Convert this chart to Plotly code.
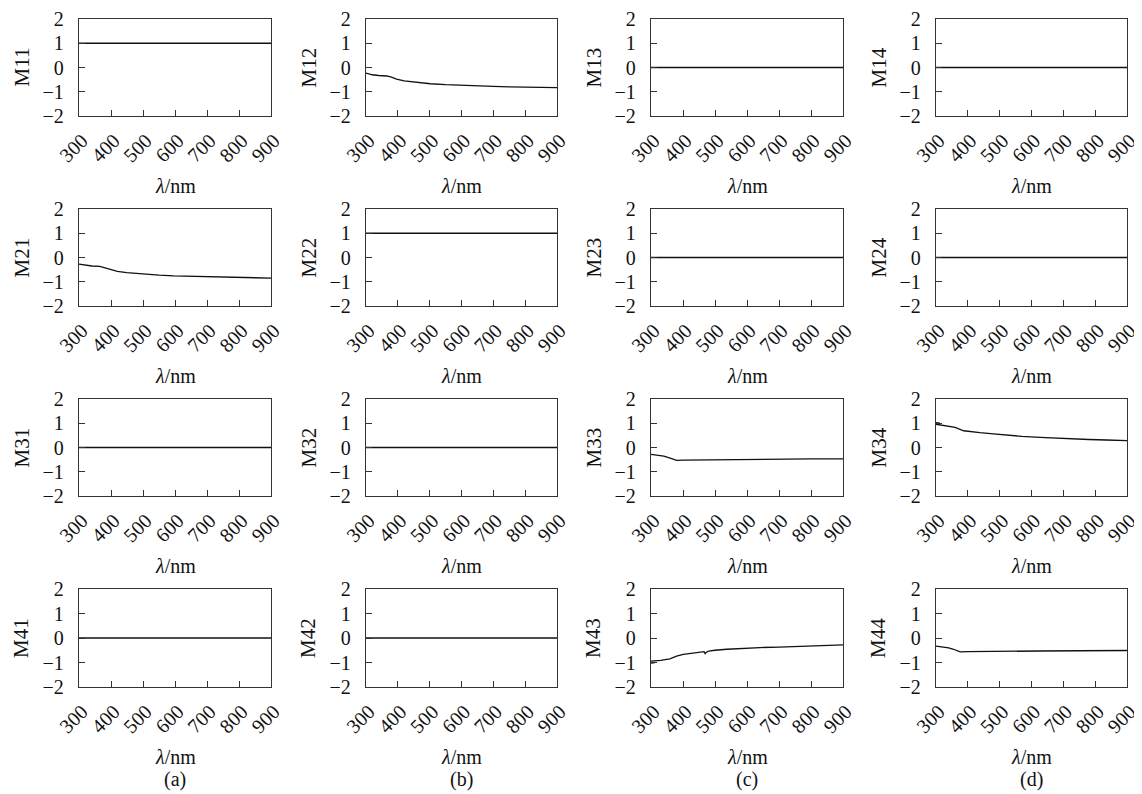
import plotly.graph_objects as go

# ---------------- data ----------------
wl_const = [300, 900]
ones = [1, 1]
zeros = [0, 0]

wl_m12 = [300, 320, 340, 365, 380, 396, 420, 449, 480, 502, 550, 596, 650, 700, 750, 800, 850, 900]
m12 = [-0.23, -0.30, -0.33, -0.35, -0.40, -0.48, -0.55, -0.60, -0.64, -0.67, -0.71, -0.74, -0.76, -0.78, -0.80, -0.81, -0.82, -0.83]

wl_m21 = [300, 320, 340, 365, 380, 396, 420, 449, 480, 502, 550, 596, 650, 700, 750, 800, 850, 900]
m21 = [-0.27, -0.32, -0.35, -0.37, -0.43, -0.50, -0.57, -0.62, -0.66, -0.69, -0.73, -0.76, -0.78, -0.80, -0.82, -0.83, -0.84, -0.85]

wl_m33 = [300, 320, 340, 360, 380, 400, 450, 500, 600, 700, 800, 900]
m33 = [-0.28, -0.31, -0.36, -0.44, -0.53, -0.52, -0.51, -0.50, -0.49, -0.48, -0.47, -0.47]

wl_m34 = [300, 330, 360, 387, 410, 438, 480, 522, 570, 627, 680, 731, 780, 835, 900]
m34 = [0.96, 0.90, 0.83, 0.69, 0.65, 0.61, 0.56, 0.51, 0.46, 0.42, 0.38, 0.35, 0.33, 0.31, 0.28]
wl_m34_start = [300, 312]
m34_start = [1.02, 1.00]

wl_m43 = [300, 330, 359, 380, 401, 430, 453, 466, 469, 473, 480, 500, 537, 590, 641, 700, 745, 800, 850, 900]
m43 = [-0.94, -0.91, -0.85, -0.74, -0.67, -0.61, -0.57, -0.56, -0.64, -0.58, -0.54, -0.50, -0.46, -0.42, -0.39, -0.37, -0.35, -0.32, -0.30, -0.28]
wl_m43_start = [300, 312]
m43_start = [-1.02, -1.00]

wl_m44 = [300, 320, 340, 355, 376, 400, 418, 500, 627, 750, 900]
m44 = [-0.33, -0.36, -0.40, -0.46, -0.57, -0.56, -0.56, -0.55, -0.53, -0.52, -0.51]

series = {
    "M11": [(wl_const, ones)],
    "M12": [(wl_m12, m12)],
    "M13": [(wl_const, zeros)],
    "M14": [(wl_const, zeros)],
    "M21": [(wl_m21, m21)],
    "M22": [(wl_const, ones)],
    "M23": [(wl_const, zeros)],
    "M24": [(wl_const, zeros)],
    "M31": [(wl_const, zeros)],
    "M32": [(wl_const, zeros)],
    "M33": [(wl_m33, m33)],
    "M34": [(wl_m34, m34), (wl_m34_start, m34_start)],
    "M41": [(wl_const, zeros)],
    "M42": [(wl_const, zeros)],
    "M43": [(wl_m43, m43), (wl_m43_start, m43_start)],
    "M44": [(wl_m44, m44)],
}
names = [["M11", "M12", "M13", "M14"],
         ["M21", "M22", "M23", "M24"],
         ["M31", "M32", "M33", "M34"],
         ["M41", "M42", "M43", "M44"]]

x_ticks = [300, 400, 500, 600, 700, 800, 900]
y_ticks = [-2, -1, 0, 1, 2]
col_labels = ["(a)", "(b)", "(c)", "(d)"]

# ---------------- layout ----------------
# page has an 8px body margin; figure coordinates = page coordinates - 8
OFF = 8
W, H = 1142 - OFF, 794 - OFF
col_px = [(79, 271), (366, 557), (651, 843), (936, 1127)]
row_px = [(19, 116), (209, 306), (399, 496), (589, 687)]

FONT = "Liberation Serif"
fig = go.Figure()
layout = dict(
    width=W, height=H,
    margin=dict(l=0, r=0, t=0, b=0),
    paper_bgcolor="white", plot_bgcolor="white",
    showlegend=False,
    font=dict(family=FONT, size=20, color="#111"),
)
annotations = []

idx = 0
for r in range(4):
    for c in range(4):
        idx += 1
        xa = "xaxis" if idx == 1 else f"xaxis{idx}"
        ya = "yaxis" if idx == 1 else f"yaxis{idx}"
        xr = "x" if idx == 1 else f"x{idx}"
        yr = "y" if idx == 1 else f"y{idx}"
        name = names[r][c]
        for xs, ys in series[name]:
            fig.add_trace(go.Scatter(x=xs, y=ys, mode="lines", xaxis=xr, yaxis=yr,
                                     line=dict(color="#111", width=1.3), hoverinfo="skip"))
        x0, x1 = (v - OFF for v in col_px[c])
        y0, y1 = (v - OFF for v in row_px[r])
        layout[xa] = dict(
            domain=[x0 / W, x1 / W], anchor=yr, range=[300, 900],
            tickmode="array", tickvals=x_ticks, ticktext=[str(v) for v in x_ticks],
            tickangle=-45, ticks="inside", ticklen=6, tickcolor="#333", tickwidth=1,
            showline=True, linecolor="#333", linewidth=1.3, mirror=True,
            showgrid=False, zeroline=False, automargin=False,
            ticklabelstandoff=4, ticklabelshift=3,
            tickfont=dict(family=FONT, size=20, color="#111"),
        )
        layout[ya] = dict(
            domain=[1 - y1 / H, 1 - y0 / H], anchor=xr, range=[-2, 2],
            tickmode="array", tickvals=y_ticks,
            ticks="inside", ticklen=6, tickcolor="#333", tickwidth=1,
            showline=True, linecolor="#333", linewidth=1.3, mirror=True,
            showgrid=False, zeroline=False, automargin=False,
            ticklabelstandoff=10,
            tickfont=dict(family=FONT, size=20, color="#111"),
        )
        cx = (x0 + x1) / 2
        annotations.append(dict(text="<i>λ</i>/nm", x=cx / W, y=1 - (y1 + 70) / H,
                                xref="paper", yref="paper", showarrow=False,
                                xanchor="center", yanchor="middle",
                                font=dict(family=FONT, size=20, color="#111")))
        annotations.append(dict(text=name, x=(x0 - 58) / W, y=1 - ((y0 + y1) / 2) / H,
                                xref="paper", yref="paper", showarrow=False, textangle=-90,
                                xanchor="center", yanchor="middle",
                                font=dict(family=FONT, size=21, color="#111")))
        if r == 3:
            annotations.append(dict(text=col_labels[c], x=cx / W, y=1 - (y1 + 92) / H,
                                    xref="paper", yref="paper", showarrow=False,
                                    xanchor="center", yanchor="middle",
                                    font=dict(family=FONT, size=20, color="#111")))

layout["annotations"] = annotations
fig.update_layout(**layout)
fig.write_html("out.html")
